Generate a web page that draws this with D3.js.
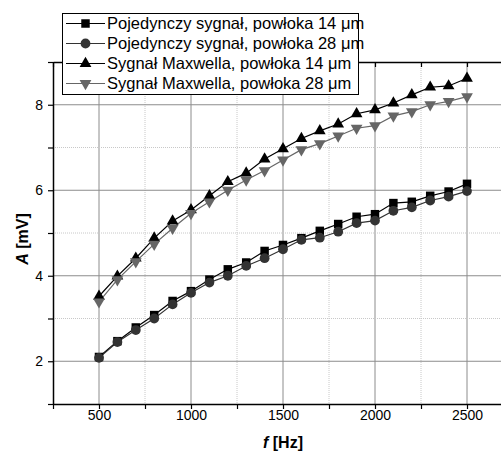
<!DOCTYPE html>
<html>
<head>
<meta charset="utf-8">
<script src="https://cdn.jsdelivr.net/npm/d3@7"></script>
<style>
  body { margin: 0; background: #fff; }
  text { font-family: "Liberation Sans", Arial, sans-serif; }
</style>
</head>
<body>
<div class="chart"></div>
<script>
// frequencies [Hz]
var freq = [500, 600, 700, 800, 900, 1000, 1100, 1200, 1300, 1400, 1500,
            1600, 1700, 1800, 1900, 2000, 2100, 2200, 2300, 2400, 2500];

// amplitude A [mV]
var single14 = [2.10, 2.47, 2.79, 3.08, 3.41, 3.64, 3.91, 4.15, 4.31, 4.58, 4.72,
                4.88, 5.05, 5.21, 5.38, 5.44, 5.70, 5.73, 5.87, 5.97, 6.15];
var single28 = [2.08, 2.45, 2.73, 3.00, 3.33, 3.60, 3.84, 4.00, 4.23, 4.41, 4.62,
                4.84, 4.89, 5.03, 5.23, 5.29, 5.52, 5.60, 5.76, 5.85, 5.98];
var maxwell14 = [3.52, 3.99, 4.41, 4.88, 5.28, 5.54, 5.87, 6.20, 6.40, 6.73, 6.97,
                 7.21, 7.39, 7.55, 7.79, 7.88, 8.04, 8.23, 8.41, 8.44, 8.62];
var maxwell28 = [3.39, 3.91, 4.33, 4.74, 5.11, 5.46, 5.73, 6.00, 6.24, 6.46, 6.71,
                 6.95, 7.09, 7.27, 7.45, 7.51, 7.74, 7.84, 8.00, 8.08, 8.19];

var seriesNames = ["Pojedynczy sygnał, powłoka 14 μm",
                   "Pojedynczy sygnał, powłoka 28 μm",
                   "Sygnał Maxwella, powłoka 14 μm",
                   "Sygnał Maxwella, powłoka 28 μm"];

var xTicks = [250, 500, 750, 1000, 1250, 1500, 1750, 2000, 2250, 2500, 2750];
var xLabels = [500, 1000, 1500, 2000, 2500];
var yTicks = [1, 2, 3, 4, 5, 6, 7, 8, 9];
var yLabels = [2, 4, 6, 8];

var svgWidth = 501;
var svgHeight = 453;

var margin = { top: 62, right: 0, bottom: 49, left: 53 };
var width = 460;
var height = svgHeight - margin.top - margin.bottom;

var svg = d3.select(".chart")
  .append("svg")
  .attr("width", svgWidth)
  .attr("height", svgHeight);

var chartGroup = svg.append("g")
  .attr("transform", `translate(${margin.left}, ${margin.top})`);

var xLinearScale = d3.scaleLinear().domain([250, 2750]).range([0, width]);
var yLinearScale = d3.scaleLinear().domain([1, 9]).range([height, 0]);

// grid lines
var isMajorX = d => d % 500 === 0;
var isMajorY = d => d % 2 === 0;

chartGroup.append("g").selectAll("line")
  .data(xTicks.filter(d => d > 250))
  .enter().append("line")
  .attr("x1", d => xLinearScale(d)).attr("x2", d => xLinearScale(d))
  .attr("y1", 0).attr("y2", height)
  .attr("stroke", d => isMajorX(d) ? "#8c8c8c" : "#c8c8c8")
  .attr("stroke-width", 1)
  .attr("stroke-dasharray", d => isMajorX(d) ? null : "1,1");

chartGroup.append("g").selectAll("line")
  .data(yTicks.filter(d => d > 1 && d < 9))
  .enter().append("line")
  .attr("x1", 0).attr("x2", width + 20)
  .attr("y1", d => yLinearScale(d)).attr("y2", d => yLinearScale(d))
  .attr("stroke", d => isMajorY(d) ? "#8c8c8c" : "#c8c8c8")
  .attr("stroke-width", 1)
  .attr("stroke-dasharray", d => isMajorY(d) ? null : "1,1");

// axes
var bottomAxis = d3.axisBottom(xLinearScale)
  .tickValues(xTicks).tickSizeInner(5).tickSizeOuter(0)
  .tickFormat(d => xLabels.indexOf(d) >= 0 ? d : "");
var leftAxis = d3.axisLeft(yLinearScale)
  .tickValues(yTicks).tickSizeInner(5).tickSizeOuter(0)
  .tickFormat(d => yLabels.indexOf(d) >= 0 ? d : "");
var topAxis = d3.axisBottom(xLinearScale)
  .tickValues(xTicks).tickSizeInner(5).tickSizeOuter(0).tickFormat("");

var gx = chartGroup.append("g")
  .attr("transform", `translate(0, ${height})`)
  .call(bottomAxis);
var gy = chartGroup.append("g").call(leftAxis);
var gt = chartGroup.append("g").call(topAxis);

[gx, gy, gt].forEach(function (g) {
  g.select(".domain").attr("stroke", "#000").attr("stroke-width", 1.5);
  g.selectAll(".tick line").attr("stroke", "#000").attr("stroke-width", 1.2);
  g.selectAll(".tick text")
    .attr("fill", "#000")
    .style("font-size", "14px")
    .style("font-family", "'Liberation Sans', Arial, sans-serif");
});
gx.selectAll(".tick text").attr("dy", "0.3em").attr("y", 12);
gy.selectAll(".tick text").attr("x", -10);

// series
var series = [
  { name: seriesNames[0], values: single14, color: "#000", line: "#000", symbol: d3.symbolSquare, size: 72, rot: 0 },
  { name: seriesNames[1], values: single28, color: "#333", line: "#333", symbol: d3.symbolCircle, size: 75, rot: 0 },
  { name: seriesNames[2], values: maxwell14, color: "#000", line: "#000", symbol: d3.symbolTriangle, size: 60, rot: 0 },
  { name: seriesNames[3], values: maxwell28, color: "#666", line: "#666", symbol: d3.symbolTriangle, size: 60, rot: 180 }
];

var line = d3.line()
  .x((d, i) => xLinearScale(freq[i]))
  .y(d => yLinearScale(d));

series.forEach(function (s) {
  chartGroup.append("path")
    .datum(s.values)
    .attr("d", line)
    .attr("fill", "none")
    .attr("stroke", s.line)
    .attr("stroke-width", 1.2);
});

series.forEach(function (s) {
  chartGroup.append("g").selectAll("path")
    .data(s.values)
    .enter().append("path")
    .attr("d", d3.symbol().type(s.symbol).size(s.size))
    .attr("transform", (d, i) => `translate(${xLinearScale(freq[i])}, ${yLinearScale(d)}) rotate(${s.rot})`)
    .attr("fill", s.color);
});

// legend
var legend = svg.append("g").attr("transform", "translate(62, 13)");
legend.append("rect")
  .attr("x", 0.5).attr("y", 0.5)
  .attr("width", 296).attr("height", 81)
  .attr("fill", "#fff").attr("stroke", "#000").attr("stroke-width", 1);

series.forEach(function (s, i) {
  var yy = 10.5 + i * 20;
  var row = legend.append("g");
  row.append("line")
    .attr("x1", 4).attr("x2", 43)
    .attr("y1", yy).attr("y2", yy)
    .attr("stroke", s.line).attr("stroke-width", 1.2);
  row.append("path")
    .attr("d", d3.symbol().type(s.symbol).size(s.size))
    .attr("transform", `translate(23.5, ${yy}) rotate(${s.rot})`)
    .attr("fill", s.color);
  row.append("text")
    .attr("x", 45).attr("y", yy)
    .attr("dy", "0.35em")
    .style("font-size", "16.5px")
    .text(s.name);
});

// axis titles
svg.append("text")
  .attr("x", 283).attr("y", 448)
  .attr("text-anchor", "middle")
  .style("font-size", "16px")
  .style("font-weight", "bold")
  .html('<tspan font-style="italic">f</tspan> [Hz]');

svg.append("text")
  .attr("transform", "translate(28, 239) rotate(-90)")
  .attr("text-anchor", "middle")
  .style("font-size", "16px")
  .style("font-weight", "bold")
  .html('<tspan font-style="italic">A</tspan> [mV]');
</script>
</body>
</html>
